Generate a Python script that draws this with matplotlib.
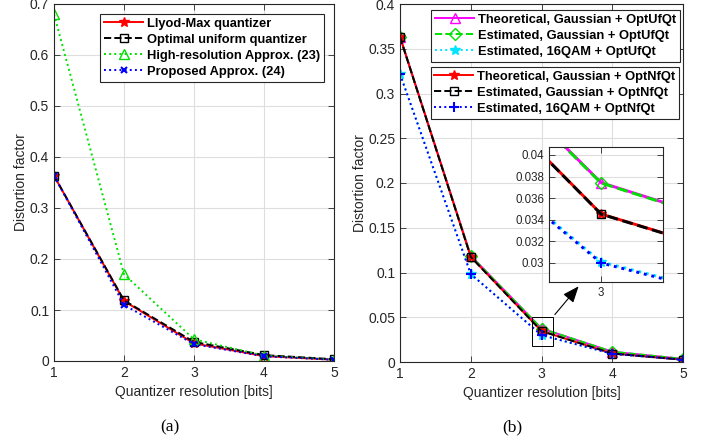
import matplotlib
matplotlib.use("Agg")
import matplotlib.pyplot as plt
from matplotlib.patches import Rectangle, FancyArrowPatch

plt.rcParams['font.family'] = ['Liberation Sans', 'DejaVu Sans']

bits = [1, 2, 3, 4, 5]
# Panel (a)
lloyd_max = [0.3634, 0.1175, 0.03454, 0.00950, 0.00250]
opt_uniform = [0.3634, 0.1188, 0.03744, 0.01154, 0.00349]
high_res = [0.680, 0.170, 0.0425, 0.0106, 0.00266]
proposed = [0.3634, 0.1100, 0.0330, 0.0092, 0.00245]
# Panel (b)
theo_gauss_uf = [0.3634, 0.1188, 0.03744, 0.01154, 0.00349]
est_gauss_uf = [0.3630, 0.1186, 0.03740, 0.01150, 0.00348]
est_qam_uf = [0.3220, 0.0985, 0.03010, 0.00920, 0.00260]
theo_gauss_nf = [0.3634, 0.1175, 0.03454, 0.00950, 0.00250]
est_gauss_nf = [0.3632, 0.1174, 0.03452, 0.00948, 0.00250]
est_qam_nf = [0.3218, 0.0983, 0.03000, 0.00915, 0.00255]

fig = plt.figure(figsize=(7.05, 4.45), dpi=100)
W, H = 705, 445

def ax_at(x0, y0, x1, y1):
    return fig.add_axes([x0 / W, 1 - y1 / H, (x1 - x0) / W, (y1 - y0) / H])

axcol = '#262626'
fs = 10
lfs = 9.3

def style(ax, size=fs):
    ax.grid(True, color='#dedede', linewidth=0.8)
    ax.set_axisbelow(True)
    ax.tick_params(direction='in', top=True, right=True, labelsize=size, colors=axcol,
                   length=4, width=0.6)
    for s in ax.spines.values():
        s.set_color(axcol)
        s.set_linewidth(0.8)

lw = 1.4
legkw = dict(prop={'weight': 'bold', 'size': lfs}, fancybox=False, edgecolor=axcol, framealpha=1,
             handlelength=3.0, borderpad=0.3, labelspacing=0.3, handletextpad=0.3,
             borderaxespad=0)

# ---------------- (a)
axa = ax_at(54, 4, 334, 361)
axa.plot(bits, lloyd_max, '-', color='red', marker='*', ms=7, lw=lw, label='Llyod-Max quantizer')
axa.plot(bits, opt_uniform, '--', color='black', marker='s', ms=6, mfc='none', lw=lw,
         label='Optimal uniform quantizer')
axa.plot(bits, high_res, ':', color='#00e000', marker='^', ms=7, mfc='none', lw=lw,
         label='High-resolution Approx. (23)')
axa.plot(bits, proposed, ':', color='blue', marker='x', ms=5, mew=1.5, lw=lw,
         label='Proposed Approx. (24)')
axa.set_xlim(1, 5)
axa.set_ylim(0, 0.7)
axa.set_xticks(bits)
axa.set_yticks([0, 0.1, 0.2, 0.3, 0.4, 0.5, 0.6, 0.7])
axa.set_yticklabels(['0', '0.1', '0.2', '0.3', '0.4', '0.5', '0.6', '0.7'])
style(axa)
axa.set_xlabel('Quantizer resolution [bits]', fontsize=fs, color=axcol, labelpad=4)
axa.set_ylabel('Distortion factor', fontsize=fs, color=axcol, labelpad=1)
leg = axa.legend(loc='upper right', bbox_to_anchor=(0.964, 0.972), **legkw)
leg.get_frame().set_linewidth(0.8)

# ---------------- (b)
axb = ax_at(400, 4, 683, 362)
series_b = [
    (theo_gauss_uf, dict(ls='-', color='magenta', marker='^', ms=7, mfc='none'), 'Theoretical, Gaussian + OptUfQt'),
    (est_gauss_uf, dict(ls='--', color='#00e000', marker='D', ms=6, mfc='none'), 'Estimated, Gaussian + OptUfQt'),
    (est_qam_uf, dict(ls=':', color='#00e5ff', marker='*', ms=7), 'Estimated, 16QAM + OptUfQt'),
    (theo_gauss_nf, dict(ls='-', color='red', marker='*', ms=7), 'Theoretical, Gaussian + OptNfQt'),
    (est_gauss_nf, dict(ls='--', color='black', marker='s', ms=6, mfc='none'), 'Estimated, Gaussian + OptNfQt'),
    (est_qam_nf, dict(ls=':', color='blue', marker='+', ms=7, mew=1.5), 'Estimated, 16QAM + OptNfQt'),
]
hb = []
for ys, kw, lab in series_b:
    h, = axb.plot(bits, ys, lw=lw, label=lab, **kw)
    hb.append(h)
axb.set_xlim(1, 5)
axb.set_ylim(0, 0.4)
axb.set_xticks(bits)
axb.set_yticks([0, 0.05, 0.1, 0.15, 0.2, 0.25, 0.3, 0.35, 0.4])
axb.set_yticklabels(['0', '0.05', '0.1', '0.15', '0.2', '0.25', '0.3', '0.35', '0.4'])
style(axb)
axb.set_xlabel('Quantizer resolution [bits]', fontsize=fs, color=axcol, labelpad=4)
axb.set_ylabel('Distortion factor', fontsize=fs, color=axcol, labelpad=1)
l1 = axb.legend(handles=hb[:3], loc='upper right', bbox_to_anchor=(0.989, 0.983), **legkw)
l1.get_frame().set_linewidth(0.8)
axb.add_artist(l1)
l2 = axb.legend(handles=hb[3:], loc='upper right', bbox_to_anchor=(0.986, 0.824), **legkw)
l2.get_frame().set_linewidth(0.8)

# zoom box and arrow
axb.add_patch(Rectangle((2.866, 0.0182), 3.163 - 2.866, 0.0506 - 0.0182, fill=False,
                        edgecolor='black', lw=0.7, zorder=5))
axb.add_patch(FancyArrowPatch((3.163, 0.0506), (3.55, 0.087),
                              arrowstyle='-|>,head_length=10,head_width=4',
                              color='black', lw=0.8, zorder=5, mutation_scale=1))

# inset
axi = ax_at(549, 147, 663, 282)
for ys, kw, lab in series_b:
    axi.plot(bits, ys, lw=lw * 1.5, **kw)
axi.set_xlim(2.941, 3.070)
axi.set_ylim(0.02824, 0.04074)
axi.set_xticks([3])
axi.set_yticks([0.03, 0.032, 0.034, 0.036, 0.038, 0.04])
axi.set_yticklabels(['0.03', '0.032', '0.034', '0.036', '0.038', '0.04'])
style(axi, size=8.3)

fig.text(170 / W, 1 - 427 / H, '(a)', family=['Liberation Serif', 'DejaVu Serif'], fontsize=12.5,
         ha='center', va='center')
fig.text(512 / W, 1 - 427 / H, '(b)', family=['Liberation Serif', 'DejaVu Serif'], fontsize=12.5,
         ha='center', va='center')

fig.savefig('out.png', dpi=100)
